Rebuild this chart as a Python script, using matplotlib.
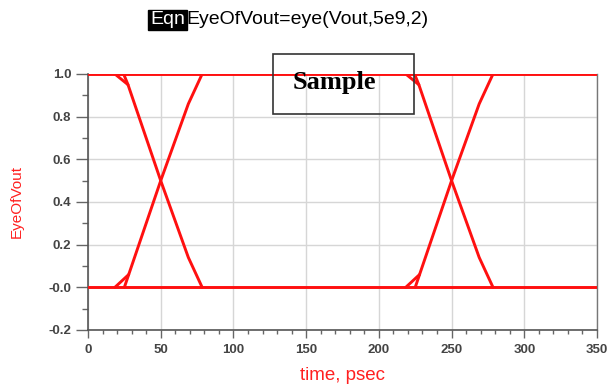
import matplotlib
matplotlib.use("Agg")
import matplotlib.pyplot as plt
from matplotlib.ticker import MultipleLocator, FixedLocator
from matplotlib.patches import Rectangle

# ---- data (time in psec, EyeOfVout) ----
t_high = [0, 350]
v_high = [1.0, 1.0]
t_low = [0, 350]
v_low = [0.0, 0.0]

# eye 1 (crossing near 50 ps)
fall1_t = [24.5, 27.5, 50, 69, 78.5]
fall1_v = [1.0, 0.95, 0.5, 0.14, 0.0]
fall1e_t = [18.5, 27.5]
fall1e_v = [1.0, 0.95]
rise1_t = [25.0, 28.0, 50, 69, 78.5]
rise1_v = [0.0, 0.06, 0.5, 0.86, 1.0]
rise1e_t = [18.5, 28.0]
rise1e_v = [0.0, 0.06]

# eye 2 (crossing near 250 ps)
fall2_t = [224.5, 227.5, 250, 269, 278.5]
fall2_v = [1.0, 0.95, 0.5, 0.14, 0.0]
fall2e_t = [218.5, 227.5]
fall2e_v = [1.0, 0.95]
rise2_t = [225.0, 228.0, 250, 269, 278.5]
rise2_v = [0.0, 0.06, 0.5, 0.86, 1.0]
rise2e_t = [218.5, 228.0]
rise2e_v = [0.0, 0.06]

x_ticks = [0, 50, 100, 150, 200, 250, 300, 350]
y_ticks = [-0.2, 0.0, 0.2, 0.4, 0.6, 0.8, 1.0]
y_ticklabels = ["-0.2", "-0.0", "0.2", "0.4", "0.6", "0.8", "1.0"]

title_tag = "Eqn"
title_text = "EyeOfVout=eye(Vout,5e9,2)"
x_label = "time, psec"
y_label = "EyeOfVout"
box_text = "Sample"

# ---- figure ----
plt.rcParams['font.family'] = ['Liberation Sans', 'DejaVu Sans']
W, H = 610, 385
fig = plt.figure(figsize=(W / 100, H / 100), dpi=100)
ax = fig.add_axes([88 / W, 1 - 330 / H, (597 - 88) / W, (330 - 74) / H])

red = '#ff1010'
lw = 2.1
traces = [(t_high, v_high), (t_low, v_low),
          (fall1_t, fall1_v), (fall1e_t, fall1e_v), (rise1_t, rise1_v), (rise1e_t, rise1e_v),
          (fall2_t, fall2_v), (fall2e_t, fall2e_v), (rise2_t, rise2_v), (rise2e_t, rise2e_v)]
for tt, vv in traces:
    ax.plot(tt, vv, color=red, lw=lw, solid_joinstyle='round', solid_capstyle='round', zorder=3)

ax.set_xlim(0, 350)
ax.set_ylim(-0.2, 1.0)
ax.xaxis.set_major_locator(FixedLocator(x_ticks))
ax.xaxis.set_minor_locator(MultipleLocator(10))
ax.yaxis.set_major_locator(FixedLocator(y_ticks))
ax.set_yticklabels(y_ticklabels)
ax.yaxis.set_minor_locator(MultipleLocator(0.1))

ax.grid(True, which='major', color='#d6d6d6', lw=1.0, zorder=0)
ax.set_axisbelow(True)

for s in ['left', 'bottom']:
    ax.spines[s].set_color('#555555')
    ax.spines[s].set_linewidth(1.2)
ax.spines['right'].set_color('#777777')
ax.spines['right'].set_linewidth(1.0)
ax.spines['top'].set_visible(False)

ax.tick_params(axis='y', which='major', length=9, width=1.0, color='#666666', pad=3,
               labelsize=9.5, labelcolor='#444444')
ax.tick_params(axis='y', which='minor', length=4.5, width=1.0, color='#666666')
ax.tick_params(axis='x', which='major', length=6, width=1.0, color='#666666', pad=4,
               labelsize=9.5, labelcolor='#444444')
ax.tick_params(axis='x', which='minor', length=3, width=1.0, color='#666666')
for lab in ax.get_xticklabels() + ax.get_yticklabels():
    lab.set_fontweight('bold')

# axis labels
fig.text(342 / W, 1 - 376 / H, x_label, color='#ff2020', fontsize=13.5,
         ha='center', va='center')
fig.text(17 / W, 1 - 202 / H, y_label, color='#ff2020', fontsize=11,
         rotation=90, ha='center', va='center')

# title
fig.text(150 / W, 1 - 20 / H, title_tag, color='white', fontsize=14, ha='left', va='center',
         bbox=dict(boxstyle='square,pad=0.1', facecolor='black', edgecolor='black'))
fig.text(186 / W, 1 - 20 / H, title_text, color='black', fontsize=14, ha='left', va='center')

# Sample box
fig.patches.append(Rectangle((273 / W, 1 - 114 / H), (414 - 273) / W, (114 - 54) / H,
                             transform=fig.transFigure, fill=False, edgecolor='#333333',
                             lw=1.2, zorder=5))
fig.text(334.5 / W, 1 - 83 / H, box_text, family='Liberation Serif', fontweight='bold',
         fontsize=19, ha='center', va='center', color='black', zorder=6)

fig.savefig('out.png', dpi=100)
